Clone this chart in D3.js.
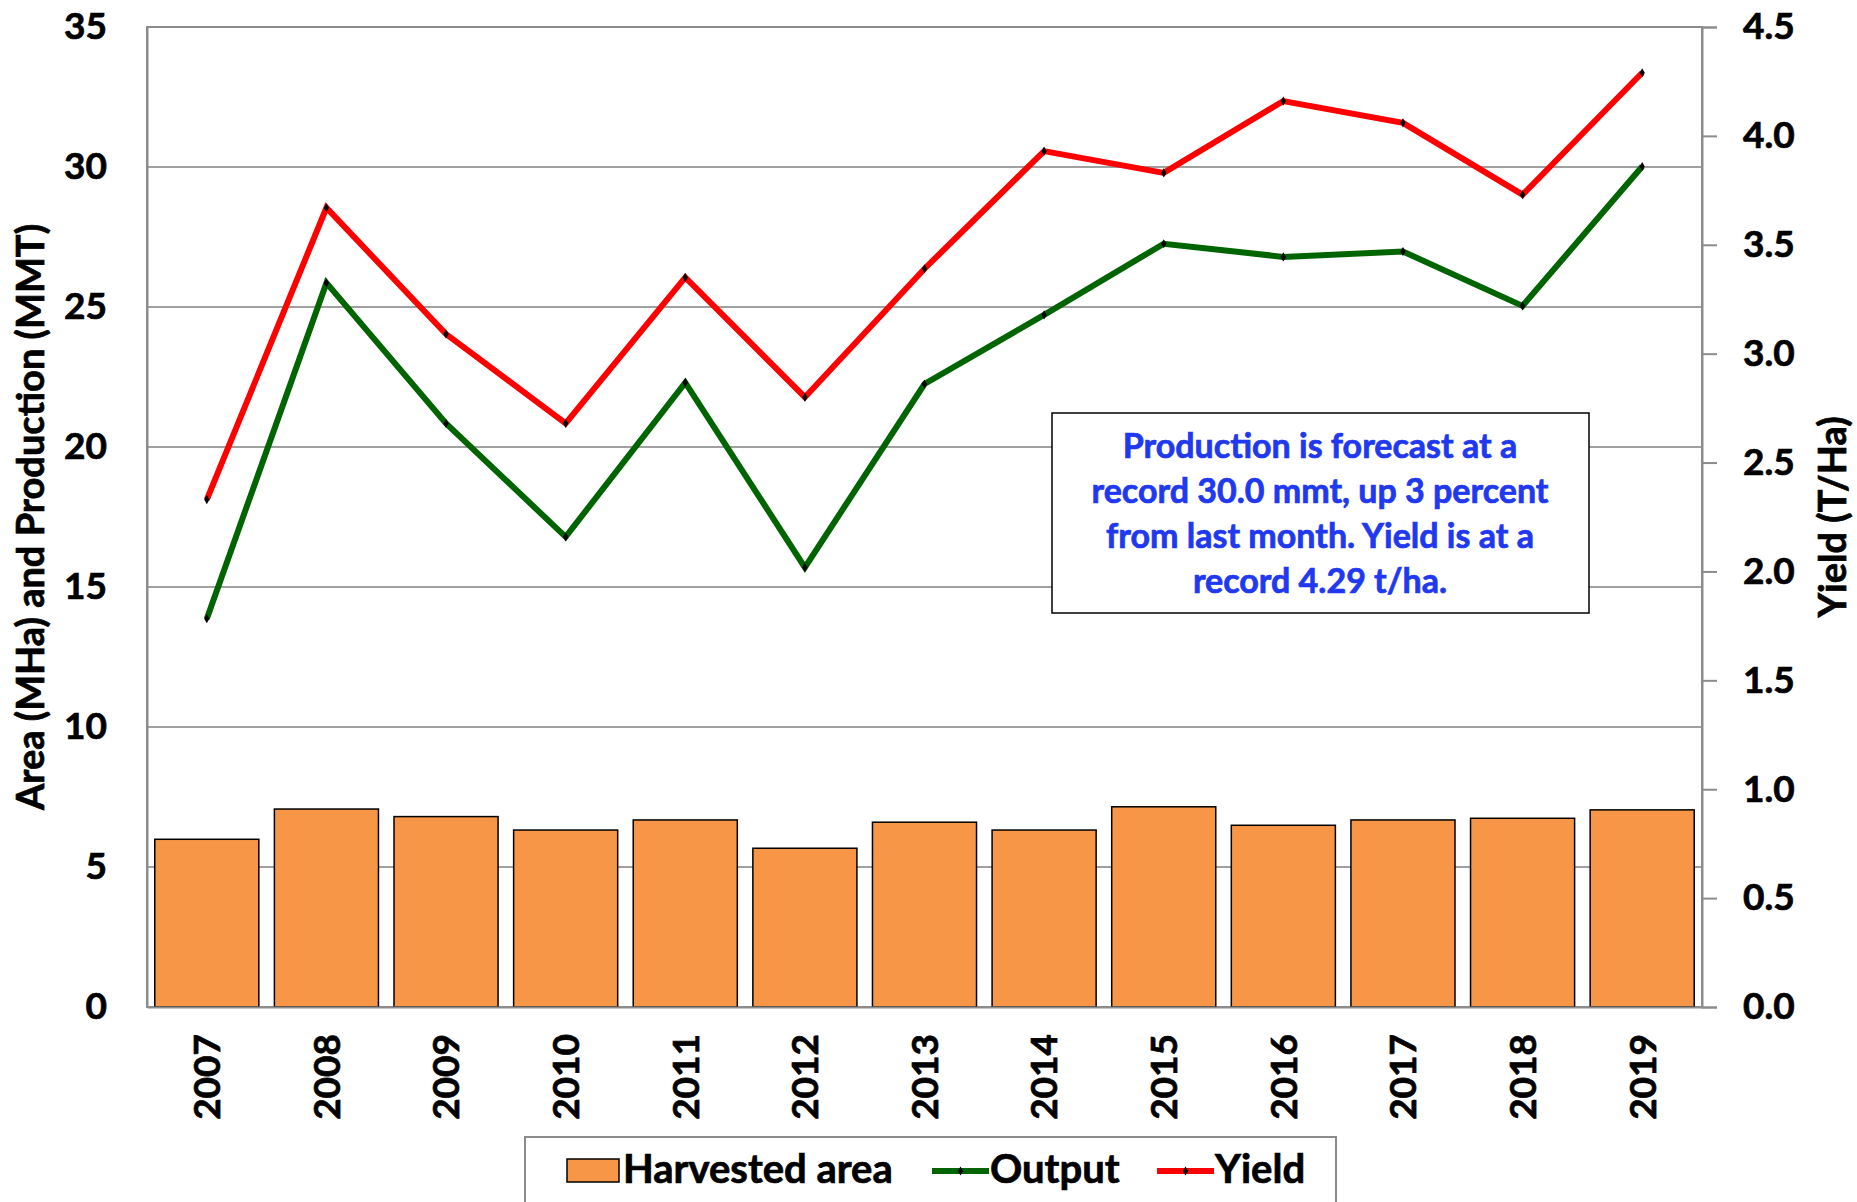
<!DOCTYPE html>
<html>
<head>
<meta charset="utf-8">
<script src="https://cdn.jsdelivr.net/npm/d3@7"></script>
<style>
  body { margin: 0; background: #fff; }
  text { font-family: Lato, "Open Sans", sans-serif; font-weight: bold; }
</style>
</head>
<body>
<div id="chart"></div>
<script>
// Chart data
const years = ["2007", "2008", "2009", "2010", "2011", "2012", "2013", "2014", "2015", "2016", "2017", "2018", "2019"];
const harvestedArea = [5.99, 7.07, 6.80, 6.32, 6.68, 5.67, 6.60, 6.32, 7.15, 6.49, 6.68, 6.74, 7.04];
const output = [13.87, 25.86, 20.84, 16.79, 22.30, 15.70, 22.25, 24.72, 27.26, 26.79, 26.98, 25.04, 30.02];
const yieldTHa = [2.33, 3.67, 3.09, 2.68, 3.35, 2.80, 3.39, 3.93, 3.83, 4.16, 4.06, 3.73, 4.29];
const leftTicks = [0, 5, 10, 15, 20, 25, 30, 35];
const rightTicks = [0, 0.5, 1.0, 1.5, 2.0, 2.5, 3.0, 3.5, 4.0, 4.5];
const legendLabels = ["Harvested area", "Output", "Yield"];
const noteLines = [
    "Production is forecast at a",
    "record 30.0 mmt, up 3 percent",
    "from last month. Yield is at a",
    "record 4.29 t/ha."
];

const W = 1857, H = 1202;
const margin = {top: 27, right: 155, bottom: 195, left: 147};
const width = W - margin.left - margin.right;
const height = H - margin.top - margin.bottom;

const svg = d3.select("#chart")
    .append("svg")
    .attr("width", W)
    .attr("height", H);

const g = svg.append("g")
    .attr("transform", `translate(${margin.left},${margin.top})`);

// Scales
const x = d3.scaleBand()
    .domain(years)
    .range([0, width])
    .paddingInner(0.13)
    .paddingOuter(0.065);

const yLeft = d3.scaleLinear().domain([0, 35]).range([height, 0]);
const yRight = d3.scaleLinear().domain([0, 4.5]).range([height, 0]);

const grey = "#8c8c8c";

// thicken the text a little, the source font is heavier than Lato bold
function heavy(sel, color) {
    sel.attr("fill", color)
        .attr("stroke", color)
        .attr("stroke-width", 0.7)
        .style("font-family", "Lato, sans-serif");
}

// Gridlines
g.append("g")
    .selectAll("line")
    .data(leftTicks.slice(1, -1))
    .join("line")
    .attr("x1", 0)
    .attr("x2", width)
    .attr("y1", d => yLeft(d))
    .attr("y2", d => yLeft(d))
    .attr("stroke", "#a0a0a0")
    .attr("stroke-width", 2);

// Plot frame
g.append("rect")
    .attr("width", width)
    .attr("height", height)
    .attr("fill", "none")
    .attr("stroke", grey)
    .attr("stroke-width", 2);

// Bars
g.append("g")
    .selectAll("rect")
    .data(harvestedArea)
    .join("rect")
    .attr("x", (d, i) => x(years[i]))
    .attr("y", d => yLeft(d))
    .attr("width", x.bandwidth())
    .attr("height", d => height - yLeft(d))
    .attr("fill", "#F79646")
    .attr("stroke", "#000")
    .attr("stroke-width", 1.5);

// Left axis
const leftAxis = g.append("g")
    .call(d3.axisLeft(yLeft).tickValues(leftTicks).tickSize(0).tickPadding(40));
leftAxis.select(".domain").attr("stroke", grey).attr("stroke-width", 2);
leftAxis.selectAll("text")
    .attr("font-size", 37)
    .call(heavy, "#000");

// Right axis
const rightAxis = g.append("g")
    .attr("transform", `translate(${width},0)`)
    .call(d3.axisRight(yRight).tickValues(rightTicks).tickSize(15).tickPadding(26).tickFormat(d3.format(".1f")));
rightAxis.select(".domain").attr("stroke", grey).attr("stroke-width", 2);
rightAxis.selectAll("line").attr("stroke", grey).attr("stroke-width", 2);
rightAxis.selectAll("text")
    .attr("font-size", 37)
    .call(heavy, "#000");

// Bottom axis labels (rotated)
const bottomAxis = g.append("g")
    .attr("transform", `translate(0,${height})`)
    .call(d3.axisBottom(x).tickSize(0));
bottomAxis.select(".domain").attr("stroke", grey).attr("stroke-width", 2);
bottomAxis.selectAll("text")
    .attr("font-size", 37)
    .call(heavy, "#000")
    .attr("text-anchor", "end")
    .attr("transform", "translate(0,27) rotate(-90)")
    .attr("x", 0)
    .attr("y", 0)
    .attr("dy", "0.36em");

// Lines
const lineLeft = d3.line()
    .x((d, i) => x(years[i]) + x.bandwidth() / 2)
    .y(d => yLeft(d));
const lineRight = d3.line()
    .x((d, i) => x(years[i]) + x.bandwidth() / 2)
    .y(d => yRight(d));

g.append("path")
    .datum(output)
    .attr("fill", "none")
    .attr("stroke", "#006400")
    .attr("stroke-width", 6)
    .attr("d", lineLeft);

g.append("path")
    .datum(yieldTHa)
    .attr("fill", "none")
    .attr("stroke", "#FF0000")
    .attr("stroke-width", 6)
    .attr("d", lineRight);

const diamond = d3.symbol().type(d3.symbolDiamond).size(24);

g.append("g")
    .selectAll("path")
    .data(output)
    .join("path")
    .attr("d", diamond)
    .attr("transform", (d, i) => `translate(${x(years[i]) + x.bandwidth() / 2},${yLeft(d)})`)
    .attr("fill", "#000");

g.append("g")
    .selectAll("path")
    .data(yieldTHa)
    .join("path")
    .attr("d", diamond)
    .attr("transform", (d, i) => `translate(${x(years[i]) + x.bandwidth() / 2},${yRight(d)})`)
    .attr("fill", "#000");

// Axis titles
svg.append("text")
    .attr("transform", `translate(44,${margin.top + height / 2}) rotate(-90)`)
    .attr("text-anchor", "middle")
    .attr("font-size", 38)
    .call(heavy, "#000")
    .text("Area (MHa) and Production (MMT)");

svg.append("text")
    .attr("transform", `translate(1846,${margin.top + height / 2}) rotate(-90)`)
    .attr("text-anchor", "middle")
    .attr("font-size", 38)
    .call(heavy, "#000")
    .text("Yield (T/Ha)");

// Annotation box
const note = svg.append("g");
note.append("rect")
    .attr("x", 1052)
    .attr("y", 413)
    .attr("width", 537)
    .attr("height", 200)
    .attr("fill", "#fff")
    .attr("stroke", "#000")
    .attr("stroke-width", 1.5);
note.selectAll("text")
    .data(noteLines)
    .join("text")
    .attr("x", 1320)
    .attr("y", (d, i) => 458 + i * 45)
    .attr("text-anchor", "middle")
    .attr("font-size", 34)
    .call(heavy, "#2038F0")
    .text(d => d);

// Legend
const legend = svg.append("g");
legend.append("rect")
    .attr("x", 525)
    .attr("y", 1137)
    .attr("width", 811)
    .attr("height", 90)
    .attr("fill", "#fff")
    .attr("stroke", grey)
    .attr("stroke-width", 2);

legend.append("rect")
    .attr("x", 567)
    .attr("y", 1159)
    .attr("width", 52)
    .attr("height", 23)
    .attr("fill", "#F79646")
    .attr("stroke", "#000")
    .attr("stroke-width", 1.5);
legend.append("text")
    .attr("x", 623)
    .attr("y", 1183)
    .attr("font-size", 40)
    .call(heavy, "#000")
    .text(legendLabels[0]);

const legendLines = [
    {x: 932, color: "#006400", label: legendLabels[1]},
    {x: 1157, color: "#FF0000", label: legendLabels[2]}
];
legendLines.forEach(l => {
    legend.append("line")
        .attr("x1", l.x)
        .attr("x2", l.x + 57)
        .attr("y1", 1171)
        .attr("y2", 1171)
        .attr("stroke", l.color)
        .attr("stroke-width", 6);
    legend.append("path")
        .attr("d", diamond)
        .attr("transform", `translate(${l.x + 28.5},1171)`)
        .attr("fill", "#000");
    legend.append("text")
        .attr("x", l.x + 58)
        .attr("y", 1183)
        .attr("font-size", 40)
        .call(heavy, "#000")
        .text(l.label);
});
</script>
</body>
</html>
